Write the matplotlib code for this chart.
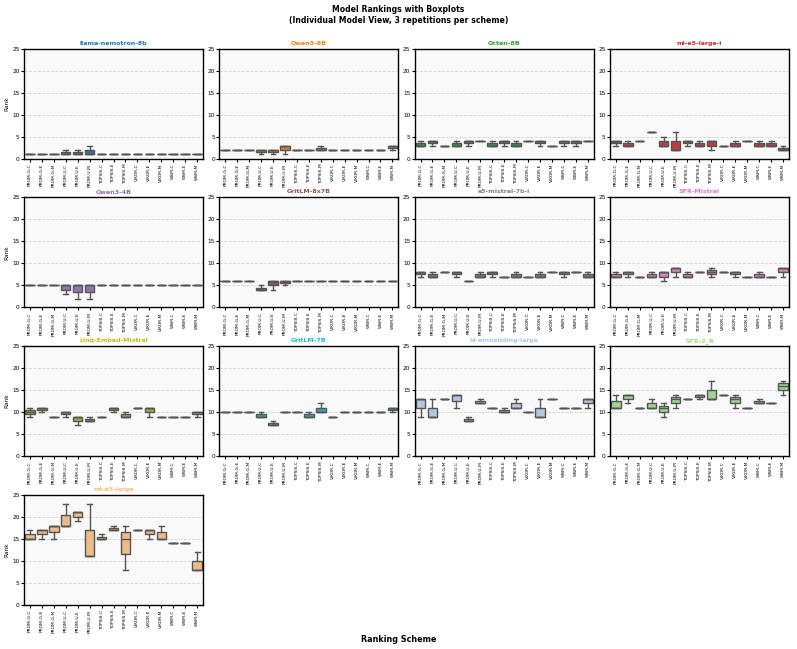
import colorsys

import matplotlib
matplotlib.use('Agg')
import matplotlib.colors as mcolors
import matplotlib.pyplot as plt
import numpy as np

schemes = ['PROM-G-C', 'PROM-G-E', 'PROM-G-M', 'PROM-U-C', 'PROM-U-E', 'PROM-U-M',
           'TOPSIS-C', 'TOPSIS-E', 'TOPSIS-M', 'VIKOR-C', 'VIKOR-E', 'VIKOR-M',
           'WSM-C', 'WSM-E', 'WSM-M']

models = ['llama-nemotron-8b', 'Qwen3-8B', 'Octen-8B', 'ml-e5-large-i',
          'Qwen3-4B', 'GritLM-8x7B', 'e5-mistral-7b-i', 'SFR-Mistral',
          'Linq-Embed-Mistral', 'GritLM-7B', 'bi-embedding-large', 'SFR-2_R',
          'ml-e5-large']

model_colors = ['#1f77b4', '#ff7f0e', '#2ca02c', '#d62728', '#9467bd', '#8c564b',
                '#7f7f7f', '#e377c2', '#bcbd22', '#17becf', '#aec7e8', '#98df8a',
                '#ffbb78']

# ranks from the 3 repetitions, one triple per scheme (same order as schemes)
llama_nemotron = [[1, 1, 1], [1, 1, 1], [1, 1, 1], [1, 1, 2], [1, 1, 2], [1, 1, 3],
                  [1, 1, 1], [1, 1, 1], [1, 1, 1], [1, 1, 1], [1, 1, 1], [1, 1, 1],
                  [1, 1, 1], [1, 1, 1], [1, 1, 1]]
qwen3_8b = [[2, 2, 2], [2, 2, 2], [2, 2, 2], [1, 2, 2], [1, 2, 2], [1, 3, 3],
            [2, 2, 2], [2, 2, 2], [2, 2, 3], [2, 2, 2], [2, 2, 2], [2, 2, 2],
            [2, 2, 2], [2, 2, 2], [2, 3, 3]]
octen = [[3, 3, 4], [3, 4, 4], [3, 3, 3], [3, 3, 4], [3, 4, 4], [4, 4, 4],
         [3, 3, 4], [3, 4, 4], [3, 3, 4], [4, 4, 4], [3, 4, 4], [3, 3, 3],
         [3, 4, 4], [3, 4, 4], [4, 4, 4]]
ml_e5_large_i = [[3, 4, 4], [3, 3, 4], [4, 4, 4], [6, 6, 6], [3, 3, 5], [2, 2, 6],
                 [3, 4, 4], [3, 3, 4], [2, 4, 4], [3, 3, 3], [3, 3, 4], [4, 4, 4],
                 [3, 3, 4], [3, 3, 4], [2, 2, 3]]
qwen3_4b = [[5, 5, 5], [5, 5, 5], [5, 5, 5], [3, 5, 5], [2, 5, 5], [2, 5, 5],
            [5, 5, 5], [5, 5, 5], [5, 5, 5], [5, 5, 5], [5, 5, 5], [5, 5, 5],
            [5, 5, 5], [5, 5, 5], [5, 5, 5]]
gritlm_8x7b = [[6, 6, 6], [6, 6, 6], [6, 6, 6], [4, 4, 5], [4, 6, 6], [5, 6, 6],
               [6, 6, 6], [6, 6, 6], [6, 6, 6], [6, 6, 6], [6, 6, 6], [6, 6, 6],
               [6, 6, 6], [6, 6, 6], [6, 6, 6]]
e5_mistral = [[7, 8, 8], [7, 7, 8], [8, 8, 8], [7, 8, 8], [6, 6, 6], [7, 7, 8],
              [7, 8, 8], [7, 7, 7], [7, 7, 8], [7, 7, 7], [7, 7, 8], [8, 8, 8],
              [7, 8, 8], [8, 8, 8], [7, 7, 8]]
sfr_mistral = [[7, 7, 8], [7, 8, 8], [7, 7, 7], [7, 7, 8], [6, 8, 8], [7, 9, 9],
               [7, 7, 8], [8, 8, 8], [7, 8, 9], [8, 8, 8], [7, 8, 8], [7, 7, 7],
               [7, 7, 8], [7, 7, 7], [7, 9, 9]]
linq = [[9, 10, 11], [10, 11, 11], [9, 9, 9], [9, 10, 10], [7, 9, 9], [8, 8, 9],
        [9, 9, 9], [10, 11, 11], [9, 9, 10], [11, 11, 11], [9, 11, 11], [9, 9, 9],
        [9, 9, 9], [9, 9, 9], [9, 10, 10]]
gritlm_7b = [[10, 10, 10], [10, 10, 10], [10, 10, 10], [9, 9, 10], [7, 7, 8], [10, 10, 10],
             [10, 10, 10], [9, 9, 10], [10, 10, 12], [9, 9, 9], [10, 10, 10], [10, 10, 10],
             [10, 10, 10], [10, 10, 10], [10, 11, 11]]
bi_embedding = [[9, 13, 13], [9, 9, 13], [13, 13, 13], [11, 14, 14], [8, 8, 9], [12, 12, 13],
                [11, 11, 11], [10, 10, 11], [11, 11, 13], [10, 10, 10], [9, 9, 13], [13, 13, 13],
                [11, 11, 11], [11, 11, 11], [11, 13, 13]]
sfr_2r = [[11, 11, 14], [12, 14, 14], [11, 11, 11], [11, 11, 13], [9, 11, 12], [11, 13, 14],
          [13, 13, 13], [13, 14, 14], [13, 13, 17], [14, 14, 14], [11, 13, 14], [11, 11, 11],
          [12, 12, 13], [12, 12, 12], [14, 16, 17]]
ml_e5_large = [[15, 15, 17], [15, 17, 17], [15, 18, 18], [18, 18, 23], [19, 21, 21], [11, 11, 23],
               [15, 15, 16], [17, 17, 18], [8, 15, 18], [17, 17, 17], [15, 17, 17], [15, 15, 18],
               [14, 14, 14], [14, 14, 14], [8, 8, 12]]

ranks = [llama_nemotron, qwen3_8b, octen, ml_e5_large_i, qwen3_4b, gritlm_8x7b,
         e5_mistral, sfr_mistral, linq, gritlm_7b, bi_embedding, sfr_2r, ml_e5_large]


def desat(c, s=0.75):
    r, g, b = mcolors.to_rgb(c)
    h, l, sat = colorsys.rgb_to_hls(r, g, b)
    return colorsys.hls_to_rgb(h, l, sat * s)


fig, axes = plt.subplots(4, 4, figsize=(7.97, 6.49), dpi=100)
fig.subplots_adjust(left=0.030, right=0.990, top=0.925, bottom=0.068,
                    wspace=0.09, hspace=0.35)

edge = '#555555'
for i, ax in enumerate(axes.flat):
    if i >= len(models):
        ax.remove()
        continue
    data = [np.array(v) for v in ranks[i]]
    bp = ax.boxplot(data, widths=0.8, whis=(0, 100), patch_artist=True,
                    capwidths=0.4, showfliers=False,
                    medianprops=dict(color=edge, linewidth=1),
                    whiskerprops=dict(color=edge, linewidth=1),
                    capprops=dict(color=edge, linewidth=1),
                    boxprops=dict(edgecolor=edge, linewidth=1))
    for box in bp['boxes']:
        box.set_facecolor(desat(model_colors[i]))
    ax.set_facecolor('#f9f9f9')
    ax.set_ylim(0, 25)
    ax.set_yticks([0, 5, 10, 15, 20, 25])
    ax.set_xticks(range(1, len(schemes) + 1))
    ax.set_xticklabels(schemes, rotation=90, fontsize=3.2)
    ax.tick_params(axis='y', labelsize=4.2, length=2, pad=1)
    ax.tick_params(axis='x', length=2, pad=1.5)
    ax.yaxis.grid(True, linestyle='--', color='#d4d4d4', linewidth=0.6)
    ax.set_axisbelow(True)
    for sp in ax.spines.values():
        sp.set_linewidth(1.0)
    ax.set_title(models[i], fontsize=4.5, fontweight='bold',
                 color=model_colors[i], pad=3)
    if i % 4 == 0:
        ax.set_ylabel('Rank', fontsize=4.2, labelpad=2)

fig.suptitle('Model Rankings with Boxplots\n(Individual Model View, 3 repetitions per scheme)',
             fontsize=5.6, fontweight='bold', y=0.992)
fig.supxlabel('Ranking Scheme', fontsize=5.8, fontweight='bold', y=0.008)

fig.savefig('out.png', dpi=100)
